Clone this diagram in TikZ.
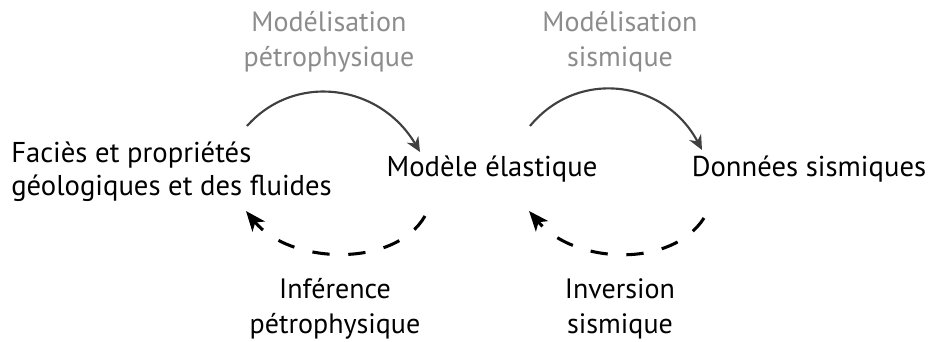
\documentclass[tikz,border=0pt]{standalone}
\usepackage{fontspec}
\setmainfont{PT Sans}
\usetikzlibrary{arrows.meta}
\definecolor{lbl}{gray}{0.55}
\tikzset{
  main/.style={font=\fontsize{21.5}{25}\selectfont, align=left, inner sep=0pt},
  proc/.style={font=\fontsize{21}{26}\selectfont, align=center, inner sep=0pt},
  fwd/.style={draw=black!75, line width=1.6pt, -{Stealth[length=11pt,width=10pt]}},
  bwd/.style={draw=black, line width=2.3pt, dash pattern=on 13pt off 14pt, -{Stealth[length=15pt,width=12pt,inset=4pt]}}
}
\begin{document}
\begin{tikzpicture}[x=0.75pt,y=-0.75pt]
\useasboundingbox (0,0) rectangle (929,342);
\node[main, anchor=west] (fac) at (11,172) {Faciès et propriétés\\géologiques et des fluides};
\node[main, anchor=base] (mod) at (492,177) {Modèle élastique};
\node[main, anchor=base] (don) at (809,177) {Données sismiques};
\node[proc, text=lbl] (mp) at (329,42) {Modélisation\\pétrophysique};
\node[proc, text=lbl] (ms) at (620,42) {Modélisation\\sismique};
\node[proc] (ip) at (335,309) {Inférence\\pétrophysique};
\node[proc] (is) at (620,309) {Inversion\\sismique};
\coordinate (a1) at (247,126); \coordinate (a2) at (420,152);
\coordinate (b1) at (530,126); \coordinate (b2) at (702,150);
\coordinate (c1) at (425,216); \coordinate (c2) at (246,211);
\coordinate (d1) at (704,218); \coordinate (d2) at (529,211);
\draw[fwd] (a1) .. controls (295,72) and (380,84) .. (a2);
\draw[fwd] (b1) .. controls (578,68) and (665,80) .. (b2);
\draw[bwd] (c1) .. controls (395,268) and (290,265) .. (c2);
\draw[bwd] (d1) .. controls (672,268) and (575,265) .. (d2);
\end{tikzpicture}
\end{document}
